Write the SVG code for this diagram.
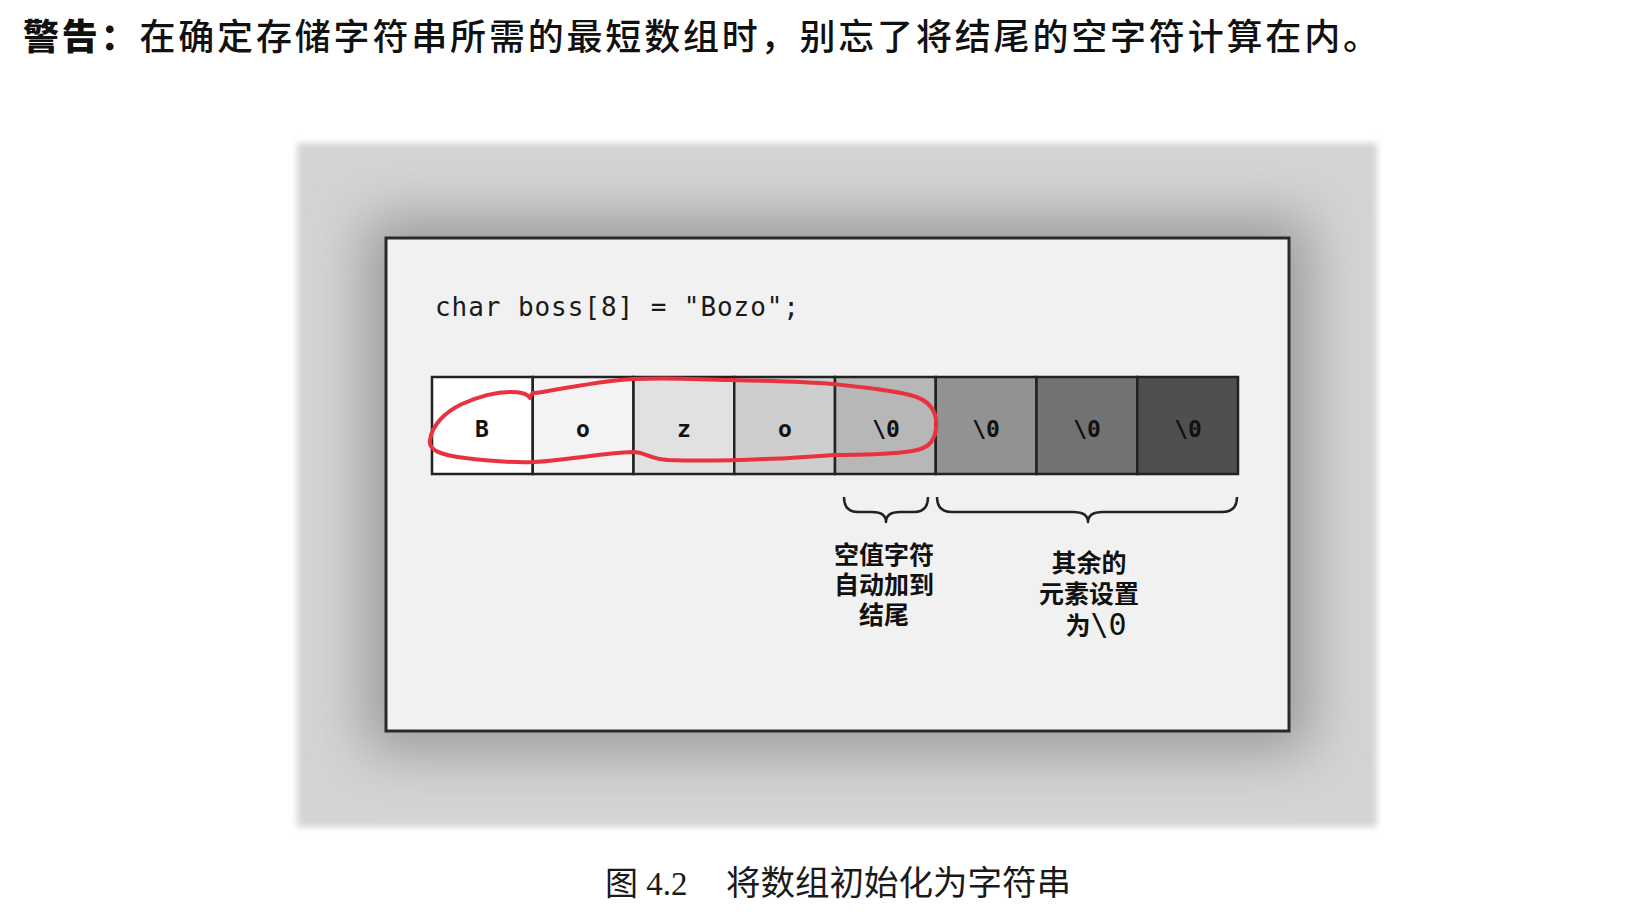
<svg xmlns="http://www.w3.org/2000/svg" width="1640" height="916" viewBox="0 0 1640 916">
  <style>
    .title { font-family: "Noto Sans CJK SC", sans-serif; font-size: 36px; fill: #111; }
    .code { font-family: "DejaVu Sans Mono", "Liberation Mono", monospace; font-size: 26px; fill: #1a1a1a; }
    .cellt { font-family: "DejaVu Sans Mono", "Liberation Mono", monospace; font-size: 23px; font-weight: bold; text-anchor: middle; fill: #111; }
    .cell { stroke: #222; stroke-width: 2.5; }
    .lbl { font-family: "Liberation Sans", "Noto Sans CJK SC", sans-serif; font-size: 25px; font-weight: bold; text-anchor: middle; fill: #111; }
    .lblm { font-family: "DejaVu Sans Mono", monospace; font-weight: normal; }
    .brace { fill: none; stroke: #222; stroke-width: 2.5; stroke-linejoin: round; }
    .cap { font-family: "Liberation Serif", "Noto Sans CJK SC", serif; font-size: 33px; fill: #1a1a1a; }
  </style>
  <defs>
    <filter id="blur" x="-20%" y="-20%" width="140%" height="140%">
      <feGaussianBlur stdDeviation="28"/>
    </filter>
    <filter id="edge" x="-5%" y="-5%" width="110%" height="110%">
      <feGaussianBlur stdDeviation="3"/>
    </filter>
    <clipPath id="outerClip">
      <rect x="297" y="143" width="1080" height="684"/>
    </clipPath>
  </defs>
  <rect width="1640" height="916" fill="#ffffff"/>

  <g id="title">
    <text class="title" x="23" y="50" textLength="1356" lengthAdjust="spacing"><tspan font-weight="900">警告：</tspan><tspan font-weight="500">在确定存储字符串所需的最短数组时，别忘了将结尾的空字符计算在内。</tspan></text>
  </g>

  <g id="figure-background">
    <rect x="297" y="143" width="1080" height="684" fill="#d4d4d4" filter="url(#edge)"/>
    <g clip-path="url(#outerClip)">
      <rect x="366" y="218" width="943" height="533" fill="#999999" filter="url(#blur)"/>
    </g>
  </g>

  <g id="panel">
    <rect x="386" y="238" width="903" height="493" fill="#f1f1f1" stroke="#2a2a2a" stroke-width="3"/>
  </g>

  <g id="code">
    <text class="code" x="435" y="316" textLength="364" lengthAdjust="spacing">char boss[8] = "Bozo";</text>
  </g>

  <g id="array">
    <rect class="cell" x="432" y="377" width="100.75" height="97" fill="#ffffff"/>
    <rect class="cell" x="532.75" y="377" width="100.75" height="97" fill="#f3f3f3"/>
    <rect class="cell" x="633.5" y="377" width="100.75" height="97" fill="#e1e1e1"/>
    <rect class="cell" x="734.25" y="377" width="100.75" height="97" fill="#cecece"/>
    <rect class="cell" x="835" y="377" width="100.75" height="97" fill="#b7b7b7"/>
    <rect class="cell" x="935.75" y="377" width="100.75" height="97" fill="#929292"/>
    <rect class="cell" x="1036.5" y="377" width="100.75" height="97" fill="#727272"/>
    <rect class="cell" x="1137.25" y="377" width="100.75" height="97" fill="#4f4f4f"/>
    <text class="cellt" x="482" y="437">B</text>
    <text class="cellt" x="583" y="437">o</text>
    <text class="cellt" x="684" y="437">z</text>
    <text class="cellt" x="785" y="437">o</text>
    <text class="cellt" x="886" y="437">\0</text>
    <text class="cellt" x="986" y="437" fill="#1a1a1a">\0</text>
    <text class="cellt" x="1087" y="437" fill="#222">\0</text>
    <text class="cellt" x="1188" y="437" fill="#353535">\0</text>
  </g>

  <g id="highlight">
    <path d="M530,398 Q531,392 536,393 C560,389 600,381 633,379 C680,377 700,380 730,380 C780,381 810,382 833,384 C870,388 890,390 910,395 C930,400 938,412 936,429 C934,445 925,450 905,452 C880,455 850,455 833,455 C800,457 790,459 764,459 C720,461 700,461 668,460 C650,459 645,452 633,452 C600,453 570,460 534,462 C510,463 490,461 465,458 C440,455 428,450 430,440 C432,425 445,412 462,404 C480,396 495,392 510,392 C520,392 527,393 530,398 Z" fill="none" stroke="#e8323f" stroke-width="4" stroke-linejoin="round"/>
  </g>

  <g id="connectors">
    <path class="brace" d="M844,497 Q844,512 858,512 L872,512 Q886,512 886,522 Q886,512 900,512 L914,512 Q928,512 928,497"/>
    <path class="brace" d="M937,497 Q937,512 952,512 L1073,512 Q1088,512 1088,522 Q1088,512 1103,512 L1222,512 Q1237,512 1237,497"/>
  </g>

  <g id="label-null">
    <text class="lbl" x="884" y="564">空值字符</text>
    <text class="lbl" x="884" y="594">自动加到</text>
    <text class="lbl" x="884" y="624">结尾</text>
  </g>

  <g id="label-rest">
    <text class="lbl" x="1089" y="572">其余的</text>
    <text class="lbl" x="1089" y="603">元素设置</text>
    <text class="lbl" x="1096" y="635">为<tspan class="lblm" font-size="30">\0</tspan></text>
  </g>

  <g id="caption">
    <text class="cap" x="605" y="895">图 4.2<tspan x="726" font-size="34.5">将数组初始化为字符串</tspan></text>
  </g>
</svg>
